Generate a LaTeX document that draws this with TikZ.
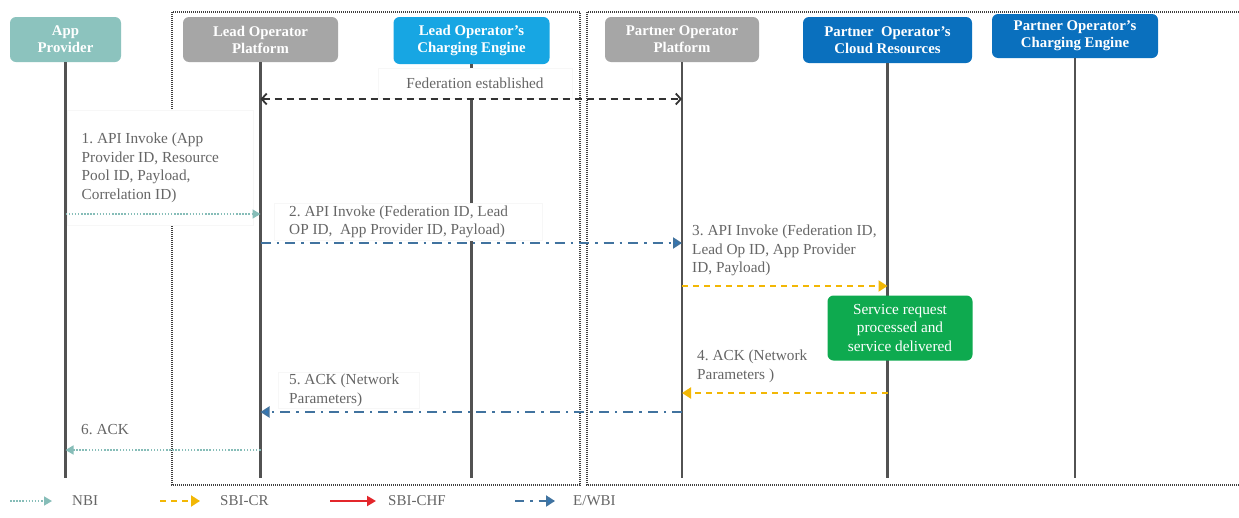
\documentclass[tikz,border=0pt]{standalone}
\usepackage{fontspec}
\setmainfont{Liberation Serif}
\usetikzlibrary{arrows.meta}
\frenchspacing
\definecolor{appc}{HTML}{8CC3BE}
\definecolor{platc}{HTML}{A6A6A6}
\definecolor{lcec}{HTML}{17A6E3}
\definecolor{pblue}{HTML}{0A70BE}
\definecolor{greenc}{HTML}{0EAA4F}
\definecolor{labc}{HTML}{666666}
\definecolor{nbic}{HTML}{86BDB8}
\definecolor{crc}{HTML}{F2B705}
\definecolor{ewc}{HTML}{41739F}
\definecolor{ewtip}{HTML}{2F78BD}
\definecolor{chfc}{HTML}{E3262B}
\tikzset{
  actor/.style={rounded corners=6pt, text=white, align=center,
    font=\bfseries\fontsize{14.8}{17}\selectfont, inner sep=0pt},
  life/.style={draw=black!68, line width=2.6pt},
  frame/.style={draw=black!75, line width=1.2pt, dash pattern=on 1pt off 1pt},
  lab/.style={fill=white, draw=black!3, align=left, text=labc,
    font=\fontsize{15.3}{18.5}\selectfont, inner sep=0pt, anchor=north west},
  nbi/.style={draw=nbic, line width=1.6pt, dash pattern=on 1.5pt off 1.6pt,
    -{Triangle[length=8pt,width=9pt,fill=nbic]}},
  sbicr/.style={draw=crc, line width=2pt, dash pattern=on 6pt off 5pt,
    -{Triangle[length=9pt,width=11pt,fill=crc]}},
  ewbi/.style={draw=ewc, line width=2pt, dash pattern=on 10pt off 6pt on 2.5pt off 6pt,
    -{Triangle[length=9pt,width=11pt,fill=ewtip]}},
  chf/.style={draw=chfc, line width=2pt, -{Triangle[length=9pt,width=10pt,fill=chfc]}},
  fed/.style={draw=black!80, line width=1.8pt, dash pattern=on 7pt off 5pt,
    {Straight Barb[length=5pt,width=11pt]}-{Straight Barb[length=5pt,width=11pt]}},
  leg/.style={text=labc, font=\fontsize{15}{17}\selectfont, anchor=west, inner sep=0pt},
}
\begin{document}
\begin{tikzpicture}[x=1pt,y=-1pt]
\useasboundingbox (0,0) rectangle (1239,517);
\fill[white] (0,0) rectangle (1239,517);

% frames
\draw[frame] (172,12) rectangle (580,485);
\draw[frame] (587,12) rectangle (1250,485);

% actors
\node[actor, fill=appc, minimum width=111pt, minimum height=45pt] (app) at (65.5,39.5) {App\\Provider};
\node[actor, fill=platc, minimum width=155pt, minimum height=45pt] (lop) at (260.5,39.5) {Lead Operator\\Platform};
\node[actor, fill=lcec, minimum width=156pt, minimum height=47pt] (lce) at (471.5,40.5) {Lead Operator's\\Charging Engine};
\node[actor, fill=platc, minimum width=154pt, minimum height=45pt] (pop) at (682,39.5) {Partner Operator\\Platform};
\node[actor, fill=pblue, minimum width=169pt, minimum height=46pt] (pcr) at (887.5,40) {Partner\ \ Operator's\\Cloud Resources};
\node[actor, fill=pblue, minimum width=166pt, minimum height=44pt] (pce) at (1075,36) {Partner Operator's\\Charging Engine};

% lifelines
\foreach \n in {app,lop,lce,pop,pcr,pce}{
  \draw[life] (\n.south) -- (\n.south |- 0,478);
}

% label boxes
\node[lab, minimum width=194pt, minimum height=30pt, align=center, anchor=north] (lfed) at (475,68) {\raisebox{-2pt}{Federation established}};
\node[lab, minimum width=186pt, minimum height=115pt, inner xsep=0pt] (l1) at (67,110)
  {\hspace*{13pt}\parbox[t]{170pt}{\raggedright 1. API Invoke (App\\Provider ID, Resource\\Pool ID, Payload,\\Correlation ID)}};
\node[lab, minimum width=268pt, minimum height=37pt] (l2) at (274,203)
  {\hspace*{12pt}\parbox[t]{250pt}{\raggedright 2. API Invoke (Federation ID, Lead\\OP ID,\ \ App Provider ID, Payload)}};
\node[lab, draw=none, fill=none] (l3) at (692,225)
  {3. API Invoke (Federation ID,\\Lead Op ID, App Provider\\ID, Payload)};
\node[lab, draw=none, fill=none] (l4) at (697,350)
  {4. ACK (Network\\Parameters )};
\node[lab, minimum width=125pt, minimum height=36pt] (l5) at (278,372)
  {\hspace*{11pt}\parbox[t]{130pt}{\raggedright 5. ACK (Network\\Parameters)}};
\node[lab, draw=none, fill=none] (l6) at (81,424) {6. ACK};

% messages
\draw[fed] (lop.south |- 0,99) -- (pop.south |- 0,99);
\draw[nbi] (app.south |- 0,214) -- (lop.south |- 0,214);
\draw[ewbi] (lop.south |- 0,243) -- (pop.south |- 0,243);
\draw[sbicr] (pop.south |- 0,286) -- (pcr.south |- 0,286);
\draw[sbicr] (pcr.south |- 0,393) -- (pop.south |- 0,393);
\draw[ewbi] (pop.south |- 0,412) -- (lop.south |- 0,412);
\draw[nbi] (lop.south |- 0,450) -- (app.south |- 0,450);

% process box
\node[actor, fill=greenc, font=\fontsize{15.3}{18.5}\selectfont, minimum width=145pt, minimum height=65pt] (proc) at (900,328)
  {Service request\\processed and\\service delivered};

% legend
\node[leg] (gnbi) at (72,501) {NBI};
\node[leg] (gcr) at (220,501) {SBI-CR};
\node[leg] (gchf) at (388,501) {SBI-CHF};
\node[leg] (gew) at (573,501) {E/WBI};
\draw[nbi] ([xshift=-62pt]gnbi.west) -- ([xshift=-20pt]gnbi.west);
\draw[sbicr] ([xshift=-60pt]gcr.west) -- ([xshift=-20pt]gcr.west);
\draw[chf] ([xshift=-58pt]gchf.west) -- ([xshift=-12pt]gchf.west);
\draw[ewbi, dash pattern=on 9pt off 6pt on 2.5pt off 6pt] ([xshift=-58pt]gew.west) -- ([xshift=-18pt]gew.west);
\end{tikzpicture}
\end{document}
